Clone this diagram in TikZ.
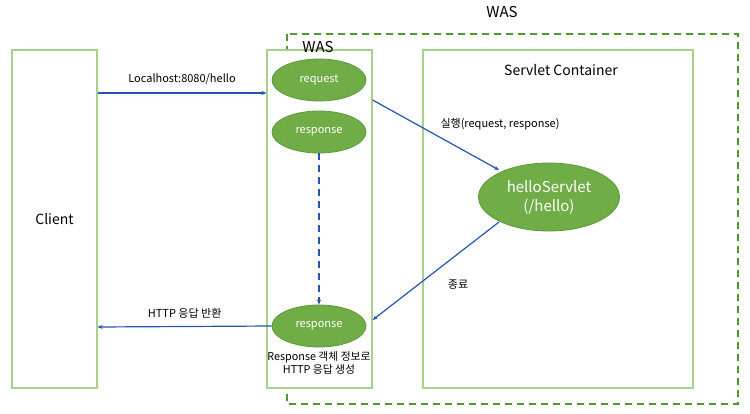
\documentclass[tikz,border=0pt]{standalone}
\usepackage{fontspec}
\setmainfont{Noto Sans CJK KR}
\usetikzlibrary{arrows.meta,calc,shapes.geometric}
\definecolor{boxgreen}{HTML}{A9D18E}
\definecolor{fillgreen}{HTML}{70AD47}
\definecolor{edgegreen}{HTML}{5B9A38}
\definecolor{dashgreen}{HTML}{4E9A2E}
\definecolor{arrowblue}{HTML}{2455B0}
\begin{document}
\begin{tikzpicture}[x=1pt,y=-1pt,
  panel/.style={draw=boxgreen,line width=1.2pt,fill=white,inner sep=0pt},
  obj/.style={ellipse,draw=edgegreen,fill=fillgreen,line width=0.8pt,text=white,inner sep=0pt},
  flow/.style={draw=arrowblue,line width=1.2pt,-{Stealth[length=5pt,width=4pt]}},
  lbl/.style={font=\fontsize{11}{13}\selectfont,inner sep=0pt}]
\useasboundingbox (0,0) rectangle (750,413);
% outer dashed WAS
\draw[dashgreen,line width=1.3pt,dash pattern=on 7pt off 5pt] (287,34) rectangle (738,404);
\node[font=\fontsize{15}{17}\selectfont] (outerwas) at (502,12) {WAS};
% panels
\node[panel,minimum width=85pt,minimum height=338pt] (client) at (54.5,219) {};
\node[font=\fontsize{14}{16}\selectfont] (clientlbl) at (54.5,219) {Client};
\node[panel,minimum width=105pt,minimum height=338pt] (was) at (319.5,219) {};
\node[font=\fontsize{15}{17}\selectfont] (waslbl) at (318,47) {WAS};
\node[panel,minimum width=270pt,minimum height=338pt] (sc) at (558,219) {};
\node[font=\fontsize{14}{16}\selectfont] (sclbl) at (561,70) {Servlet Container};
% ellipses
\node[obj,minimum width=94pt,minimum height=42pt,font=\fontsize{11}{13}\selectfont] (req) at (319,80) {request};
\node[obj,minimum width=94pt,minimum height=42pt,font=\fontsize{11}{13}\selectfont] (resp) at (319,132) {response};
\node[obj,minimum width=94pt,minimum height=42pt,font=\fontsize{11}{13}\selectfont] (resp2) at (319,326) {response};
\node[obj,minimum width=141pt,minimum height=68pt,font=\fontsize{15}{19}\selectfont,align=center] (hs) at (549,197) {helloServlet\\(/hello)};
\node[lbl,align=center,font=\fontsize{10.8}{13}\selectfont] (note) at (319,363) {Response 객체 정보로\\HTTP 응답 생성};
% arrows
\coordinate (c1) at (client.east |- 0,93);
\coordinate (w1) at (was.west |- 0,93);
\draw[flow] (c1) -- (w1) node[lbl,midway,above=8pt] {Localhost:8080/hello};
\coordinate (w2) at (was.east |- 0,100);
\coordinate (h1) at (499,170);
\draw[flow] (w2) -- (h1);
\node[lbl] (execlbl) at (500,124) {실행(request, response)};
\draw[flow,dash pattern=on 7pt off 5pt] (resp.south) -- (resp2.north);
\coordinate (h2) at (499,222);
\coordinate (w3) at (was.east |- 0,320);
\draw[flow] (h2) -- (w3);
\node[lbl] (endlbl) at (458,285) {종료};
\coordinate (c2) at (client.east |- 0,327);
\draw[flow] (resp2.west) -- (c2) node[lbl,midway,above=8pt] {HTTP 응답 반환};
\end{tikzpicture}
\end{document}
